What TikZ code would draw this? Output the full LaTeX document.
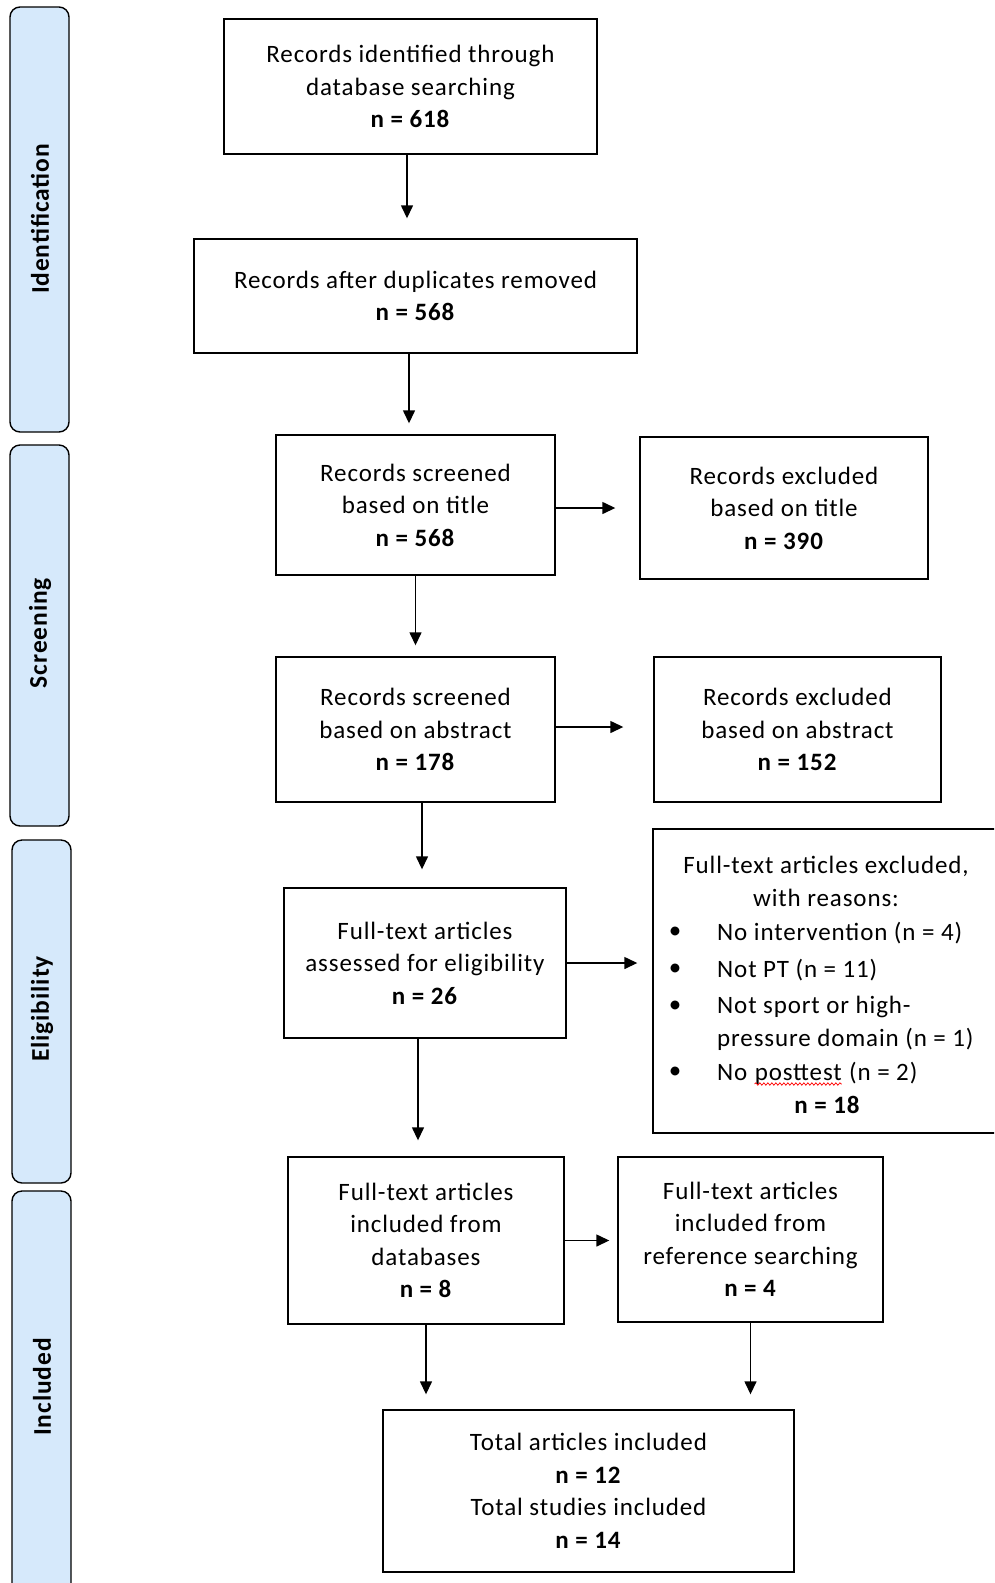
\documentclass[tikz,border=0pt]{standalone}
\usepackage{fontspec}
\setmainfont{Carlito}[LetterSpace=3.5]
\usetikzlibrary{arrows.meta,decorations.pathmorphing}
\definecolor{barblue}{RGB}{214,233,251}
\begin{document}
\begin{tikzpicture}[x=1pt,y=-1pt,
  box/.style={draw, line width=1.4pt, inner sep=0pt, align=center, font=\fontsize{25}{32.5}\selectfont},
  bar/.style={draw, line width=1.4pt, fill=barblue, rounded corners=10pt},
  barlabel/.style={rotate=90, inner sep=0pt, font=\fontsize{25.5}{30}\selectfont\bfseries},
  arr/.style={line width=1.4pt, -{Triangle[length=13pt,width=12pt]}},
  txt/.style={inner sep=0pt, font=\fontsize{25}{32.5}\selectfont},
]
\useasboundingbox (0,0) rectangle (994,1583);
\clip (0,0) rectangle (994,1583);

% phase bars
\draw[bar] (10,7) rectangle (69,432);
\draw[bar] (10,445) rectangle (69,826);
\draw[bar] (12,840) rectangle (71,1183);
\draw[bar] (12,1191) rectangle (71,1620);
\node[barlabel] (l1) at (40,219) {Identification};
\node[barlabel] (l2) at (40,633) {Screening};
\node[barlabel] (l3) at (42,1009) {Eligibility};
\node[barlabel] (l4) at (42,1387) {Included};

% main boxes
\node[box, minimum width=373pt, minimum height=135pt] (b1) at (410.5,86.5)
  {Records identified through\\database searching\\\textbf{n = 618}};
\node[box, minimum width=443pt, minimum height=114pt] (b2) at (415.5,296)
  {Records after duplicates removed\\\textbf{n = 568}};
\node[box, minimum width=279pt, minimum height=140pt] (b3) at (415.5,505)
  {Records screened\\based on title\\\textbf{n = 568}};
\node[box, minimum width=288pt, minimum height=142pt] (e1) at (784,508)
  {Records excluded\\based on title\\\textbf{n = 390}};
\node[box, minimum width=279pt, minimum height=145pt] (b4) at (415.5,729.5)
  {Records screened\\based on abstract\\\textbf{n = 178}};
\node[box, minimum width=287pt, minimum height=145pt] (e2) at (797.5,729.5)
  {Records excluded\\based on abstract\\\textbf{n = 152}};
\node[box, minimum width=282pt, minimum height=150pt] (b5) at (425,963)
  {Full-text articles\\assessed for eligibility\\\textbf{n = 26}};
\node[box, minimum width=360pt, minimum height=304pt] (e3) at (833,981) {};
\node[box, minimum width=276pt, minimum height=167pt] (b6) at (426,1240.5)
  {Full-text articles\\included from\\databases\\\textbf{n = 8}};
\node[box, minimum width=265pt, minimum height=165pt] (r1) at (750.5,1239.5)
  {Full-text articles\\included from\\reference searching\\\textbf{n = 4}};
\node[box, minimum width=411pt, minimum height=162pt] (t) at (588.5,1491)
  {Total articles included\\\textbf{n = 12}\\Total studies included\\\textbf{n = 14}};

% reasons box content
\node[txt] (e3a) at (826,866) {Full-text articles excluded,};
\node[txt] (e3b) at (826,898) {with reasons:};
\node[txt] (d1) at (675,933) {\textbullet};
\node[txt] (d2) at (675,970) {\textbullet};
\node[txt] (d3) at (675,1007) {\textbullet};
\node[txt] (d4) at (675,1073) {\textbullet};
\node[txt, anchor=west] (r1t) at (717,933) {No intervention (n = 4)};
\node[txt, anchor=west] (r2t) at (717,970) {Not PT (n = 11)};
\node[txt, anchor=west] (r3t) at (717,1007) {Not sport or high-};
\node[txt, anchor=west] (r3u) at (717,1039) {pressure domain (n = 1)};
\node[txt, anchor=base west] (r4a) at (717,1080) {No};
\node[txt, anchor=base west] (r4b) at ([xshift=7pt]r4a.base east) {posttest};
\node[txt, anchor=base west] (r4c) at ([xshift=7pt]r4b.base east) {(n = 2)};
\node[txt, font=\fontsize{25}{32.5}\selectfont\bfseries] (e3n) at (827,1105) {n = 18};
\draw[red, line width=0.7pt, decorate, decoration={snake, amplitude=1.2pt, segment length=4pt}]
  ([yshift=-4pt]r4b.base west) -- ([yshift=-4pt]r4b.base east);

% connectors
\draw[arr, shorten >=20pt] ([xshift=-3.5pt]b1.south) -- ([xshift=-3.5pt]b1.south |- b2.north);
\draw[arr, shorten >=11pt] ([xshift=-6.5pt]b2.south) -- ([xshift=-6.5pt]b2.south |- b3.north);
\draw[arr, shorten >=11pt] (b3.south) -- (b3.south |- b4.north);
\draw[arr, shorten >=24pt] ([yshift=-3pt]b3.east) -- ([yshift=-3pt]b3.east -| e1.west);
\draw[arr, shorten >=30pt] ([yshift=2.5pt]b4.east) -- ([yshift=2.5pt]b4.east -| e2.west);
\draw[arr, shorten >=18pt] ([xshift=6.5pt]b4.south) -- ([xshift=6.5pt]b4.south |- b5.north);
\draw[arr, shorten >=15pt] (b5.east) -- (b5.east -| e3.west);
\draw[arr, shorten >=16pt] ([xshift=-7pt]b5.south) -- ([xshift=-7pt]b5.south |- b6.north);
\draw[arr, shorten >=8pt] (b6.east) -- (b6.east -| r1.west);
\draw[arr, shorten >=15pt] (b6.south) -- (b6.south |- t.north);
\draw[arr, shorten >=15pt] (r1.south) -- (r1.south |- t.north);
\end{tikzpicture}
\end{document}
